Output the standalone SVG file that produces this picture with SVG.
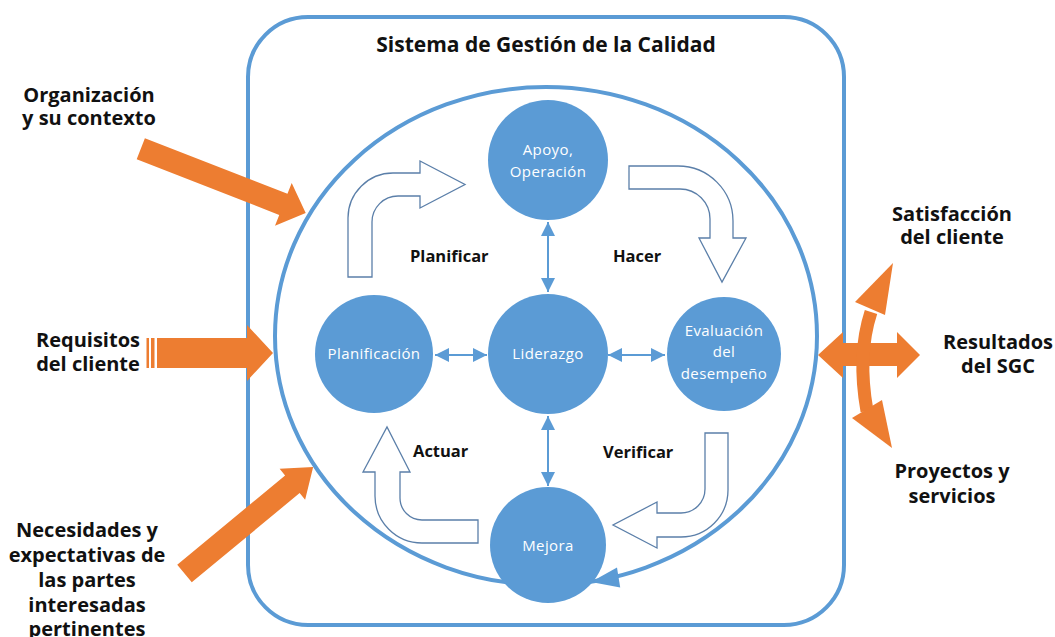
<svg xmlns="http://www.w3.org/2000/svg" width="1055" height="637" viewBox="0 0 1055 637">
<style>
.lbl{font-family:"Open Sans","Liberation Sans",sans-serif;font-weight:700;font-size:20px;fill:#111;text-anchor:middle}
.phase{font-family:"Open Sans","Liberation Sans",sans-serif;font-weight:700;font-size:16.5px;fill:#111}
.title{font-family:"Open Sans","Liberation Sans",sans-serif;font-weight:700;font-size:21px;fill:#111;text-anchor:middle}
.node circle{fill:#5B9BD5}
.ntxt{font-family:"Open Sans","Liberation Sans",sans-serif;font-size:15px;fill:#fff;text-anchor:middle;letter-spacing:0.4px}
.uarrow{fill:#fff;stroke:#5b7fa9;stroke-width:1.3}
.orange{fill:#ED7D31}
.frame{fill:none;stroke:#5B9BD5;stroke-width:4}
.link{stroke:#5B9BD5;stroke-width:2;fill:none;marker-start:url(#ah);marker-end:url(#ah)}
</style>
<defs>
<marker id="ah" viewBox="0 0 10 10" refX="10" refY="5" markerWidth="7" markerHeight="7" orient="auto-start-reverse" markerUnits="strokeWidth">
<path d="M0,0 L10,5 L0,10 Z" fill="#5B9BD5"/>
</marker>
</defs>
<rect width="1055" height="637" fill="#fff"/>

<g id="sgc-frame">
<rect class="frame" x="248" y="17" width="596" height="608" rx="60" ry="60"/>
<text class="title" x="546" y="52">Sistema de Gestión de la Calidad</text>
</g>

<g id="inputs">
<g id="in-organizacion">
<polygon class="orange" transform="translate(140.8,148.8) rotate(21.3)" points="0,-11.3 153,-11.3 153,-23 177,0 153,23 153,11.3 0,11.3"/>
<text class="lbl" x="89" y="102">Organización</text>
<text class="lbl" x="89" y="125">y su contexto</text>
</g>
<g id="in-requisitos">
<rect class="orange" x="146.5" y="338" width="2.5" height="30"/>
<rect class="orange" x="151" y="338" width="3.5" height="30"/>
<polygon class="orange" points="157,338 247,338 247,325 273,353 247,381 247,368 157,368"/>
<text class="lbl" x="88" y="347">Requisitos</text>
<text class="lbl" x="88" y="371">del cliente</text>
</g>
<g id="in-necesidades">
<polygon class="orange" transform="translate(184.5,573.5) rotate(-39.6)" points="0,-11.4 140,-11.4 140,-20 167,0 140,20 140,11.4 0,11.4"/>
<text class="lbl" x="87" y="537">Necesidades y</text>
<text class="lbl" x="87" y="562">expectativas de</text>
<text class="lbl" x="87" y="587">las partes</text>
<text class="lbl" x="87" y="612">interesadas</text>
<text class="lbl" x="87" y="636">pertinentes</text>
</g>
</g>

<g id="outputs">
<polygon class="orange" points="818,355 843,332 843,343 897,343 897,332 920,355 897,378 897,366 843,366 843,378"/>
<path d="M871,312 Q857,355 867,411" fill="none" stroke="#ED7D31" stroke-width="13"/>
<polygon class="orange" points="893,263 855,302 885,315"/>
<polygon class="orange" points="852,418 882,400 892,448"/>
<g id="out-satisfaccion">
<text class="lbl" x="952" y="221">Satisfacción</text>
<text class="lbl" x="952" y="244">del cliente</text>
</g>
<g id="out-resultados">
<text class="lbl" x="998" y="349">Resultados</text>
<text class="lbl" x="998" y="373">del SGC</text>
</g>
<g id="out-proyectos">
<text class="lbl" x="952" y="478">Proyectos y</text>
<text class="lbl" x="952" y="503">servicios</text>
</g>
</g>

<g id="cycle-ring">
<ellipse cx="546" cy="336" rx="271" ry="249" fill="none" stroke="#5B9BD5" stroke-width="4"/>
<polygon points="591,582 617,567.6 620.2,587.4" fill="#5B9BD5"/>
</g>

<g id="phase-arrows">
<g id="planificar">
<path class="uarrow" d="M348,277 V218 A45,45 0 0 1 393,173 H420 V161 L465,184.5 L420,208 V196 H398 A26,26 0 0 0 372,222 V277 Z"/>
<text class="phase" x="410" y="262">Planificar</text>
</g>
<g id="hacer">
<path class="uarrow" d="M629,166 H678 A55,55 0 0 1 733,221 V238 H746 L722,282 L699,238 H710 V219 A30,30 0 0 0 680,189 H629 Z"/>
<text class="phase" x="613" y="262">Hacer</text>
</g>
<g id="verificar">
<path class="uarrow" d="M705,433 H728 V490 A47,47 0 0 1 681,537 H657 V548 L613,525 L657,502 V513 H681 A24,24 0 0 0 705,489 Z"/>
<text class="phase" x="603" y="458">Verificar</text>
</g>
<g id="actuar">
<path class="uarrow" d="M478,520 H422 A22,22 0 0 1 400,498 V472 H410 L387,427 L363,472 H375 V496 A47,47 0 0 0 422,543 H478 Z"/>
<text class="phase" x="413" y="457">Actuar</text>
</g>
</g>

<g id="connectors">
<line class="link" x1="435" y1="355" x2="487" y2="355"/>
<line class="link" x1="608" y1="355" x2="665" y2="355"/>
<line class="link" x1="548" y1="222" x2="548" y2="292"/>
<line class="link" x1="548" y1="416" x2="548" y2="486"/>
</g>

<g id="node-apoyo" class="node">
<circle cx="548" cy="160" r="60"/>
<text class="ntxt" x="548" y="155">Apoyo,</text>
<text class="ntxt" x="548" y="177">Operación</text>
</g>
<g id="node-planificacion" class="node">
<circle cx="374" cy="354" r="59"/>
<text class="ntxt" x="374" y="359">Planificación</text>
</g>
<g id="node-liderazgo" class="node">
<circle cx="548" cy="354" r="60"/>
<text class="ntxt" x="548" y="359">Liderazgo</text>
</g>
<g id="node-evaluacion" class="node">
<circle cx="724" cy="354" r="57"/>
<text class="ntxt" x="724" y="336">Evaluación</text>
<text class="ntxt" x="724" y="357">del</text>
<text class="ntxt" x="724" y="379">desempeño</text>
</g>
<g id="node-mejora" class="node">
<circle cx="548" cy="545" r="58"/>
<text class="ntxt" x="548" y="551">Mejora</text>
</g>
</svg>
